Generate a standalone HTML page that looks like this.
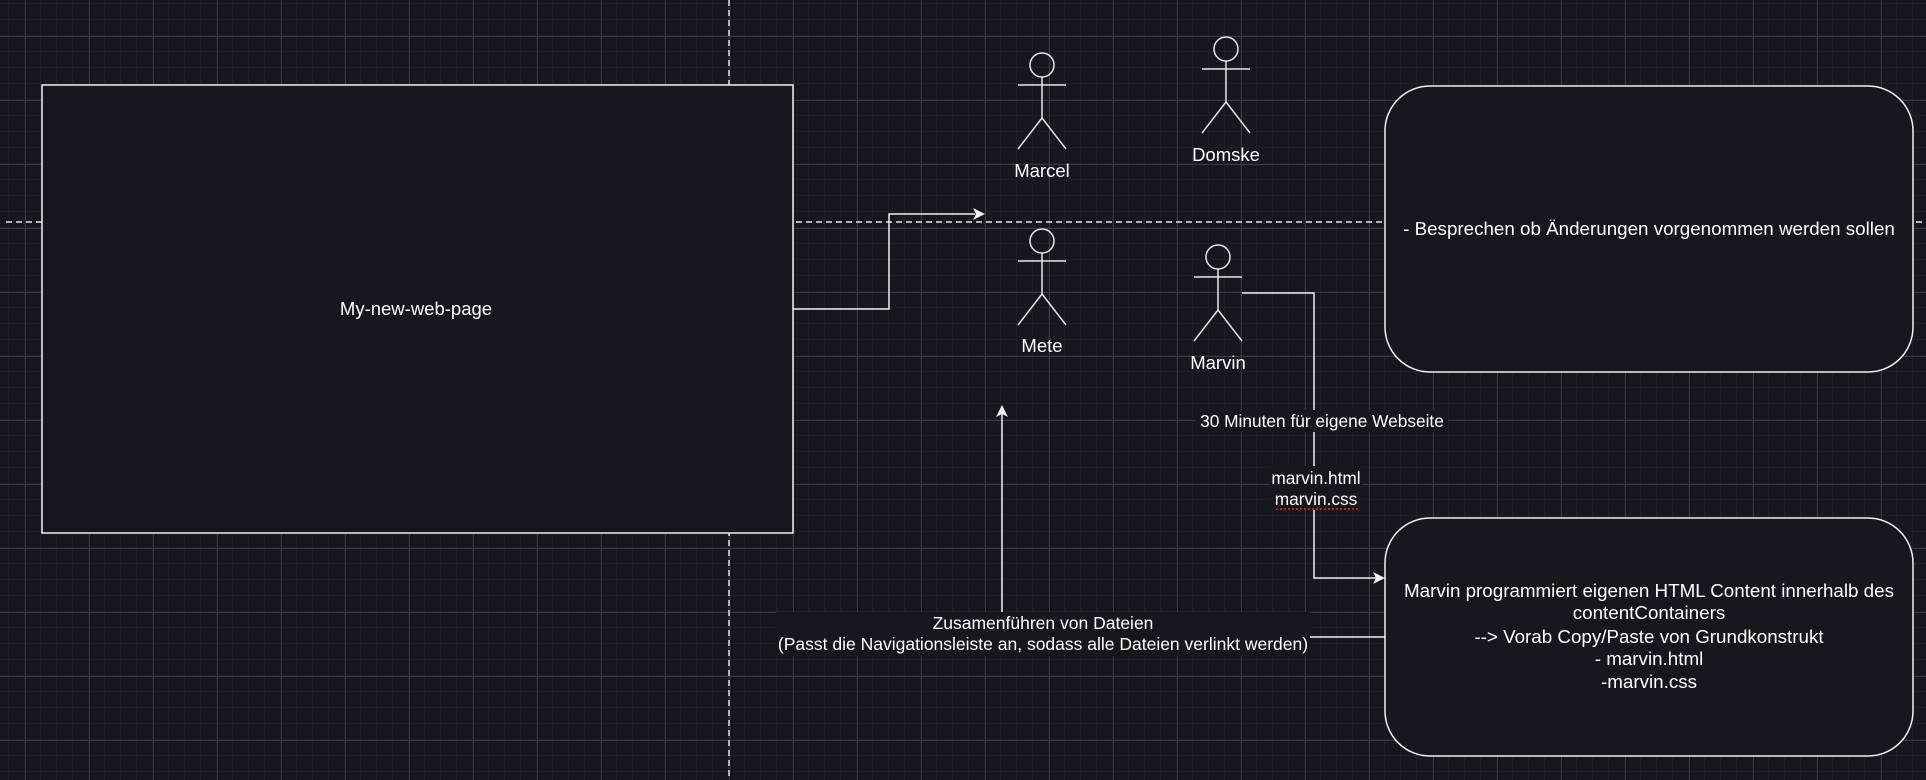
<!DOCTYPE html>
<html><head><meta charset="utf-8"><style>
html,body{margin:0;padding:0;background:#18171c;}
svg{display:block;font-family:"Liberation Sans",Arial,sans-serif;}
</style></head><body>
<svg width="1926" height="780" viewBox="0 0 1926 780" xmlns="http://www.w3.org/2000/svg">
<defs>
<pattern id="minor" x="9" y="4" width="16" height="16" patternUnits="userSpaceOnUse">
<path d="M16 0V16M0 16H16" stroke="#26252b" stroke-width="1" fill="none"/>
</pattern>
<pattern id="major" x="25" y="36" width="64" height="64" patternUnits="userSpaceOnUse">
<path d="M0.5 0V64M0 0.5H64" stroke="#3a393f" stroke-width="1" fill="none"/>
</pattern>
</defs>
<rect width="1926" height="780" fill="#18171c"/>
<rect width="1926" height="780" fill="url(#minor)"/>
<rect width="1926" height="780" fill="url(#major)"/>

<g stroke="#e6e6e6" stroke-width="1.5" stroke-dasharray="6,4" fill="none">
<line x1="729" y1="0" x2="729" y2="780"/>
<line x1="6" y1="222" x2="1926" y2="222"/>
</g>

<rect x="42" y="85" width="751" height="448" fill="#18171c" stroke="#f0f0f0" stroke-width="1.5"/>
<text x="416" y="315" fill="#fff" font-size="18.5" text-anchor="middle">My-new-web-page</text>

<g stroke="#f0f0f0" stroke-width="1.5" fill="none">
<polyline points="793,309 889,309 889,214 975,214"/>
<polyline points="1242,293 1314,293 1314,578 1377,578"/>
<line x1="1002" y1="612" x2="1002" y2="413"/>
<line x1="1310" y1="637" x2="1385" y2="637"/>
</g>
<g fill="#f0f0f0">
<polygon points="985,214 973,208 976,214 973,220"/>
<polygon points="1385,578 1373,572 1376,578 1373,584"/>
<polygon points="1002,405 996,417 1002,414 1008,417"/>
</g>

<rect x="1385" y="86" width="528" height="286" rx="45" fill="#18171c" stroke="#f0f0f0" stroke-width="1.5"/>
<text x="1649" y="235" fill="#fff" font-size="18.8" text-anchor="middle">- Besprechen ob Änderungen vorgenommen werden sollen</text>

<rect x="1385" y="518" width="528" height="238" rx="45" fill="#18171c" stroke="#f0f0f0" stroke-width="1.5"/>
<g fill="#fff" font-size="18.8" text-anchor="middle">
<text x="1649" y="597">Marvin programmiert eigenen HTML Content innerhalb des</text>
<text x="1649" y="619">contentContainers</text>
<text x="1649" y="643">--&gt; Vorab Copy/Paste von Grundkonstrukt</text>
<text x="1649" y="665">- marvin.html</text>
<text x="1649" y="688">-marvin.css</text>
</g>

<rect x="1196" y="410" width="252" height="22" fill="#18171c"/>
<text x="1322" y="427" fill="#fff" font-size="17.3" text-anchor="middle">30 Minuten für eigene Webseite</text>
<rect x="1270" y="466" width="92" height="44" fill="#18171c"/>
<text x="1316" y="484" fill="#fff" font-size="17.3" text-anchor="middle">marvin.html</text>
<text x="1316" y="505" fill="#fff" font-size="17.3" text-anchor="middle">marvin.css</text>
<line x1="1276" y1="509" x2="1358" y2="509" stroke="#d33" stroke-width="1.5" stroke-dasharray="2,2"/>
<rect x="776" y="612" width="534" height="44" fill="#18171c"/>
<text x="1043" y="629" fill="#fff" font-size="17.5" text-anchor="middle">Zusamenführen von Dateien</text>
<text x="1043" y="650" fill="#fff" font-size="17.5" text-anchor="middle">(Passt die Navigationsleiste an, sodass alle Dateien verlinkt werden)</text>

<g stroke="#e6e6e6" stroke-width="1.5" fill="none">
<g transform="translate(1042,65)">
<circle cx="0" cy="0" r="12"/><line x1="-24" y1="20" x2="24" y2="20"/><line x1="0" y1="12" x2="0" y2="53"/><polyline points="-24,84 0,53 24,84"/>
</g>
<g transform="translate(1226,49)">
<circle cx="0" cy="0" r="12"/><line x1="-24" y1="20" x2="24" y2="20"/><line x1="0" y1="12" x2="0" y2="53"/><polyline points="-24,84 0,53 24,84"/>
</g>
<g transform="translate(1042,241)">
<circle cx="0" cy="0" r="12"/><line x1="-24" y1="20" x2="24" y2="20"/><line x1="0" y1="12" x2="0" y2="53"/><polyline points="-24,84 0,53 24,84"/>
</g>
<g transform="translate(1218,257)">
<circle cx="0" cy="0" r="12"/><line x1="-24" y1="20" x2="24" y2="20"/><line x1="0" y1="12" x2="0" y2="53"/><polyline points="-24,84 0,53 24,84"/>
</g>
</g>
<g fill="#fff" font-size="18.5" text-anchor="middle">
<text x="1042" y="177">Marcel</text>
<text x="1226" y="161">Domske</text>
<text x="1042" y="352">Mete</text>
<text x="1218" y="369">Marvin</text>
</g>
</svg>
</body></html>
